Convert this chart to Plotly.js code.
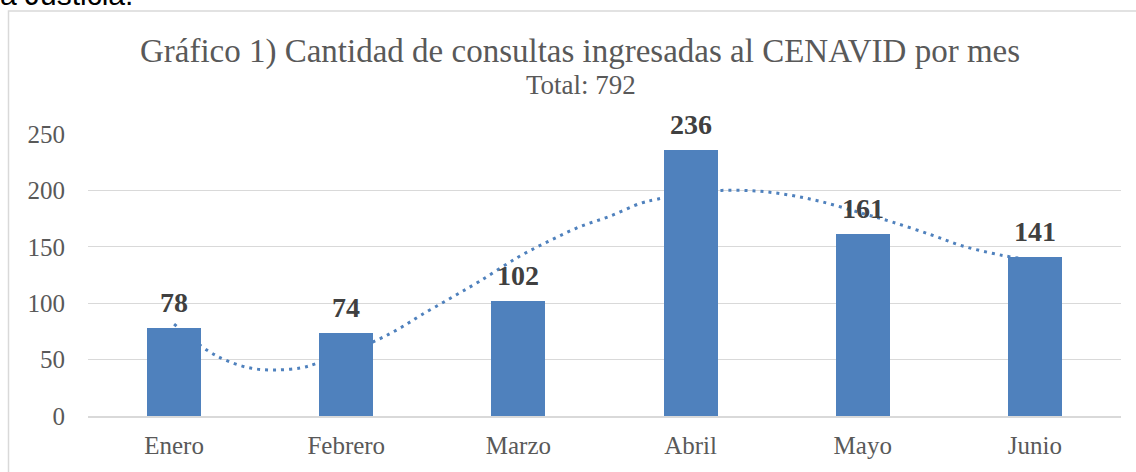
<!DOCTYPE html>
<html>
<head>
<meta charset="utf-8">
<script src="https://cdn.plot.ly/plotly-3.0.1.min.js"></script>
<style>
  html, body { margin: 0; padding: 0; background: #ffffff; }
  #chart { width: 1136px; height: 472px; }
</style>
</head>
<body>
<div id="chart"></div>
<script>
// ---- data ----
const months = ["Enero", "Febrero", "Marzo", "Abril", "Mayo", "Junio"];
const consultas = [78, 74, 102, 236, 161, 141];
const titleText = "Gráfico 1) Cantidad de consultas ingresadas al CENAVID por mes";
const subtitleText = "Total: 792";
const cutText = "a Justicia.";
// dotted trend line (x in month positions, 0 = Enero)
const trendX = [0, 0.19, 0.31, 0.45, 0.59, 0.74, 0.83, 1.0, 1.18, 1.31, 1.43, 1.60, 1.77, 2.0, 2.19, 2.36, 2.53, 2.71, 2.80, 3.0, 3.18, 3.38, 3.57, 3.76, 3.99, 4.17, 4.40, 4.58, 4.76, 4.86, 5.0];
const trendY = [81.5, 58.5, 48.8, 42.3, 40.8, 42.8, 46.7, 56, 67.4, 77.7, 89, 104, 119, 141, 156, 168, 177, 188.6, 192, 198.5, 200, 199.5, 196, 190, 180, 172, 160.5, 150.7, 144, 141, 138];

const monthIdx = months.map((m, i) => i);
const BLUE = "#4f81bd";
const SERIF = "Liberation Serif, Times New Roman, serif";

const trend = {
  type: "scatter", mode: "lines",
  x: trendX, y: trendY,
  xaxis: "x", yaxis: "y",
  line: { color: BLUE, width: 3, dash: "3px,5px", shape: "spline", smoothing: 1 },
  hoverinfo: "skip", showlegend: false
};
const bars = {
  type: "bar",
  x: monthIdx, y: consultas,
  xaxis: "x", yaxis: "y2",
  width: 0.314,
  marker: { color: BLUE },
  showlegend: false
};

const labelAnn = consultas.map((v, i) => ({
  x: i, y: v, xref: "x", yref: "y",
  text: "<b>" + v + "</b>",
  showarrow: false, yanchor: "bottom", yshift: 8,
  font: { family: SERIF, size: 28, color: "#404040" }
}));

const layout = {
  width: 1136, height: 472,
  margin: { l: 88, r: 15, t: 134, b: 56 },
  paper_bgcolor: "#ffffff", plot_bgcolor: "#ffffff",
  title: {
    text: titleText,
    font: { family: SERIF, size: 33, color: "#595959" },
    xref: "container", x: 580 / 1136, xanchor: "center",
    yref: "container", y: 1 - 50 / 472, yanchor: "middle"
  },
  xaxis: {
    range: [-0.5, 5.5],
    tickmode: "array", tickvals: monthIdx, ticktext: months,
    showgrid: false, zeroline: false,
    showline: true, linecolor: "#d9d9d9", linewidth: 1.5,
    ticks: "", ticklabelstandoff: 6,
    tickfont: { family: SERIF, size: 25, color: "#595959" },
    fixedrange: true
  },
  yaxis: {
    range: [0, 250], tickvals: [0, 50, 100, 150, 200, 250],
    showgrid: true, gridcolor: "#d9d9d9", gridwidth: 1.3,
    zeroline: false, showline: false, ticks: "",
    ticklabelstandoff: 22,
    tickfont: { family: SERIF, size: 25, color: "#595959" },
    fixedrange: true
  },
  yaxis2: {
    range: [0, 250], overlaying: "y", visible: false, fixedrange: true
  },
  shapes: [{
    type: "rect", xref: "paper", yref: "paper",
    x0: (8.5 - 88) / 1033, x1: 1.2,
    y0: -0.4, y1: (416 - 11) / 282,
    line: { color: "#d9d9d9", width: 1.5 }, fillcolor: "rgba(0,0,0,0)", layer: "below"
  }],
  annotations: labelAnn.concat([
    {
      text: subtitleText, showarrow: false,
      xref: "paper", yref: "paper",
      x: (581 - 88) / 1033, y: (416 - 85) / 282,
      xanchor: "center", yanchor: "middle",
      font: { family: SERIF, size: 27, color: "#595959" }
    },
    {
      text: cutText, showarrow: false,
      xref: "paper", yref: "paper",
      x: (-2 - 88) / 1033, y: (416 - 13) / 282,
      xanchor: "left", yanchor: "bottom",
      font: { family: "Liberation Sans, Arial, sans-serif", size: 30, color: "#000000" }
    }
  ]),
  showlegend: false,
  bargap: 0
};

Plotly.newPlot("chart", [trend, bars], layout, { displayModeBar: false, staticPlot: true });
</script>
</body>
</html>
